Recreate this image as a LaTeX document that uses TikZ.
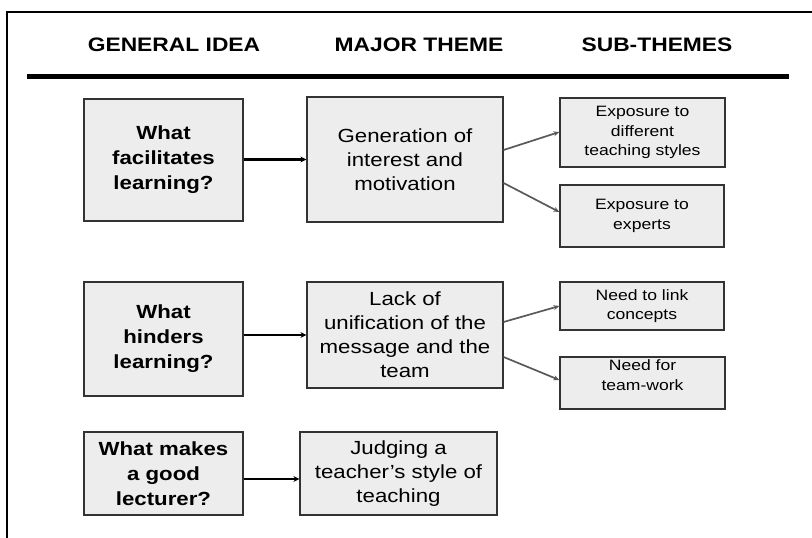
\documentclass[tikz,border=0pt]{standalone}
\usepackage{fontspec}
\setmainfont{Liberation Sans}[FakeStretch=1.17]
\usetikzlibrary{arrows.meta}
\begin{document}
\begin{tikzpicture}[x=1pt, y=-1pt,
    box/.style={draw=black!80, fill=gray!14, line width=1.2pt, inner sep=0pt, align=center},
    idea/.style={box, minimum width=159pt, font=\bfseries\fontsize{19}{25}\selectfont},
    theme/.style={box, font=\fontsize{19}{24}\selectfont},
    subtheme/.style={box, font=\fontsize{15}{19.5}\selectfont},
    heading/.style={font=\bfseries\fontsize{19.5}{24}\selectfont},
    mainarrow/.style={line width=2.2pt, -{Stealth[length=6pt, width=6pt]}},
    subarrow/.style={gray!70!black, line width=1.7pt, -{Stealth[length=6pt, width=5pt]}}]
  \useasboundingbox (0,0) rectangle (812,538);
  \draw[line width=1.2pt] (7,538) -- (7,12) -- (812,12);
  \draw
    (174,45) node[heading] (h1){GENERAL IDEA}
    (419,45) node[heading] (h2){MAJOR THEME}
    (657,45) node[heading] (h3){SUB-THEMES};
  \draw[line width=5pt] (27,76) -- (789,76);
  \draw
    (163.5,160) node[idea, minimum height=122pt] (q1){What\\facilitates\\learning?}
    (163.5,339) node[idea, minimum height=114pt] (q2){What\\hinders\\learning?}
    (163.5,473.5) node[idea, minimum height=83pt] (q3){What makes\\a good\\lecturer?}
    (405,159.5) node[theme, minimum width=196pt, minimum height=125pt] (t1){Generation of\\interest and\\motivation}
    (405,335) node[theme, minimum width=196pt, minimum height=106pt] (t2){Lack of\\unification of the\\message and the\\team}
    (398.5,473.5) node[theme, minimum width=197pt, minimum height=83pt] (t3){Judging a\\teacher’s style of\\teaching}
    (642.5,132.5) node[subtheme, minimum width=165pt, minimum height=69pt] (s1){Exposure to\\different\\teaching styles}
    (642,216) node[subtheme, minimum width=164pt, minimum height=62pt] (s2){Exposure to\\experts}
    (642,306) node[subtheme, minimum width=164pt, minimum height=48pt] (s3){Need to link\\concepts}
    (642.5,383) node[subtheme, minimum width=165pt, minimum height=52pt] (s4){\raisebox{6.5pt}[\height][\depth]{\begin{tabular}{@{}c@{}}Need for\\team-work\end{tabular}}};
  \begin{scope}[mainarrow]
    \draw (q1.east |- t1.west) to (t1.west);
    \draw (q2.east |- t2.west) to (t2.west);
    \draw ([yshift=-5.5pt]q3.east) to ([yshift=-5.5pt]q3.east -| t3.west);
  \end{scope}
  \begin{scope}[subarrow]
    \draw ([yshift=9.5pt]t1.east) to ([yshift=0.5pt]s1.west);
    \draw ([yshift=-23.5pt]t1.east) to ([yshift=4pt]s2.west);
    \draw ([yshift=13pt]t2.east) to (s3.west);
    \draw ([yshift=-22pt]t2.east) to ([yshift=3pt]s4.west);
  \end{scope}
\end{tikzpicture}
\end{document}
